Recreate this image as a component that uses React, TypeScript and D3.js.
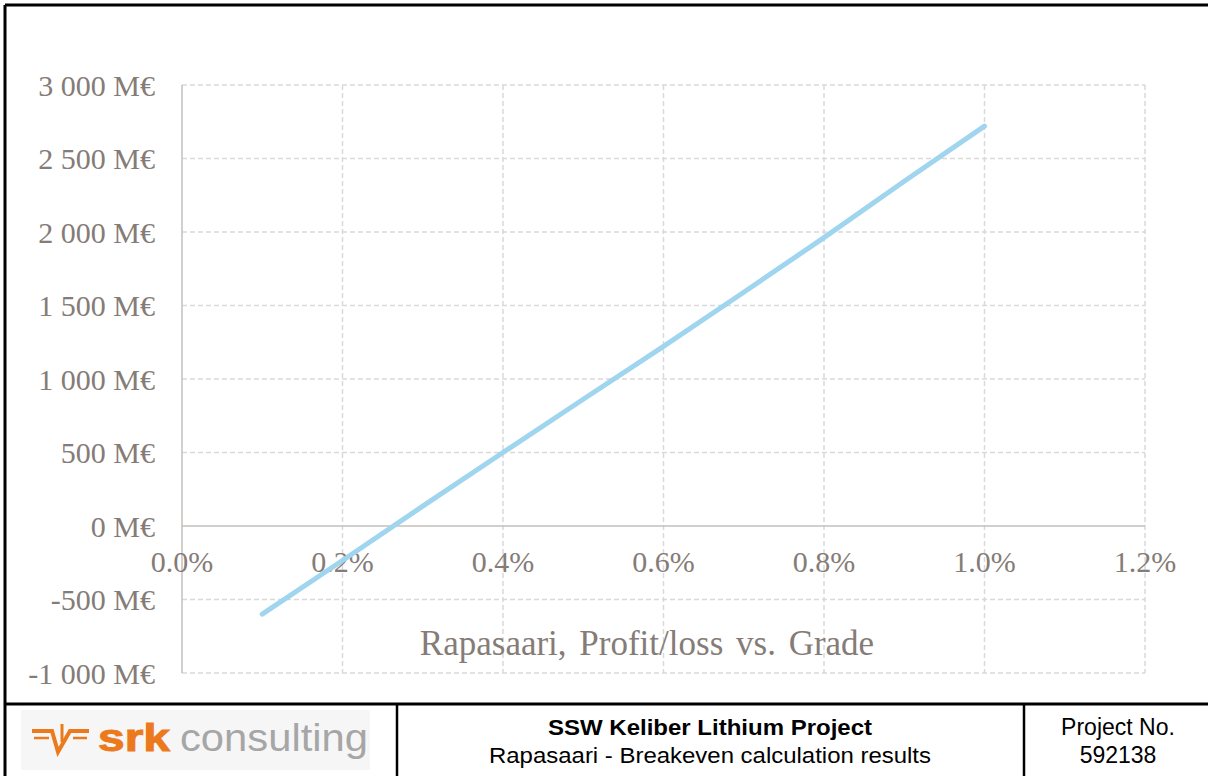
import * as d3 from 'd3';

// grade (%) vs. profit/loss (M€)
const grades = [0.1, 0.2, 0.3, 0.4, 0.5, 0.6, 0.7, 0.8, 0.9, 1.0];
const profit = [-600, -235, 135, 500, 862, 1222, 1590, 1962, 2345, 2720];

const xTicks = [0, 0.2, 0.4, 0.6, 0.8, 1.0, 1.2];
const yTicks = [-1000, -500, 0, 500, 1000, 1500, 2000, 2500, 3000];

const chartTitle = 'Rapasaari, Profit/loss vs. Grade';
const footerTitle = 'SSW Keliber Lithium Project';
const footerSub = 'Rapasaari - Breakeven calculation results';
const projectLabel = 'Project No.';
const projectNo = '592138';

const W = 1208;
const H = 776;
const plot = { left: 182, right: 1145, top: 85, bottom: 673 };

const textGrey = '#857c77';
const gridGrey = '#d9d9d9';
const axisGrey = '#c4bfbc';
const orange = '#ec7a1c';
const serif = '"Liberation Serif", "Times New Roman", serif';
const sans = '"Liberation Sans", Arial, sans-serif';

// excel style: space as thousands separator, plain hyphen for negatives
const fmtY = (v: number) =>
  d3.format(',')(v).replace(/,/g, ' ').replace('\u2212', '-') + ' M€';
const fmtX = (v: number) => v.toFixed(1) + '%';

const App = () => {
  const x = d3.scaleLinear().domain([0, 1.2]).range([plot.left, plot.right]);
  const y = d3.scaleLinear().domain([-1000, 3000]).range([plot.bottom, plot.top]);

  const line = d3
    .line<number>()
    .x((_, i) => x(grades[i]))
    .y((d) => y(d));

  const footerY = 704;

  return (
    <svg
      width={W}
      height={H}
      style={{ position: 'absolute', left: 0, top: 0, background: '#fff' }}
    >
      {/* gridlines */}
      <g stroke={gridGrey} strokeWidth={1.5} strokeDasharray="5,3" fill="none">
        {yTicks
          .filter((t) => t !== 0)
          .map((t) => (
            <line key={'h' + t} x1={plot.left} x2={plot.right} y1={y(t)} y2={y(t)} />
          ))}
        {xTicks
          .filter((t) => t !== 0)
          .map((t) => (
            <line key={'v' + t} x1={x(t)} x2={x(t)} y1={plot.top} y2={plot.bottom} />
          ))}
      </g>

      {/* axes */}
      <line x1={x(0)} x2={x(0)} y1={plot.top} y2={plot.bottom} stroke={axisGrey} strokeWidth={1.5} />
      <line x1={plot.left} x2={plot.right} y1={y(0)} y2={y(0)} stroke={axisGrey} strokeWidth={1.5} />

      {/* y tick labels */}
      <g fontFamily={serif} fontSize={30} fill={textGrey} textAnchor="end">
        {yTicks.map((t) => (
          <text key={t} x={155} y={y(t)} dy="0.35em">
            {fmtY(t)}
          </text>
        ))}
      </g>

      {/* x tick labels, next to the zero line */}
      <g fontFamily={serif} fontSize={30} fill={textGrey} textAnchor="middle">
        {xTicks.map((t) => (
          <text key={t} x={x(t)} y={y(0) + 46}>
            {fmtX(t)}
          </text>
        ))}
      </g>

      {/* series */}
      <path
        d={line(profit) || ''}
        fill="none"
        stroke="#9fd5ee"
        strokeWidth={5}
        strokeLinecap="round"
        strokeLinejoin="round"
      />

      {/* chart title */}
      <text
        x={647}
        y={655}
        textAnchor="middle"
        fontFamily={serif}
        fontSize={35}
        fill={textGrey}
        wordSpacing={4}
      >
        {chartTitle}
      </text>

      {/* frame */}
      <g stroke="#000" fill="none">
        <line x1={5} x2={W} y1={5} y2={5} strokeWidth={3} />
        <line x1={5} x2={5} y1={5} y2={H} strokeWidth={3} />
        <line x1={5} x2={W} y1={footerY} y2={footerY} strokeWidth={3} />
        <line x1={397} x2={397} y1={footerY} y2={H} strokeWidth={2.5} />
        <line x1={1024} x2={1024} y1={footerY} y2={H} strokeWidth={2.5} />
      </g>

      {/* logo */}
      <g>
        <rect x={21} y={710} width={349} height={60} fill="#f6f6f6" />
        <g stroke={orange} fill="none" strokeLinecap="butt" strokeLinejoin="miter">
          <path d="M32,731 H52 L58,752 L70,731 H89" strokeWidth={4} />
          <path d="M34,738 H49 M73,738 H87" strokeWidth={2.5} />
          <path d="M62,724 V742" strokeWidth={3} />
        </g>
        <text
          x={98}
          y={751}
          fontFamily={sans}
          fontWeight="900"
          fontSize={38}
          fill={orange}
          textLength={72}
          lengthAdjust="spacingAndGlyphs"
          stroke={orange}
          strokeWidth={1}
        >
          srk
        </text>
        <text
          x={180}
          y={751}
          fontFamily={sans}
          fontSize={39}
          fill="#a6a6a6"
          textLength={188}
          lengthAdjust="spacingAndGlyphs"
        >
          consulting
        </text>
      </g>

      {/* footer texts */}
      <g fontFamily={sans} fill="#000" textAnchor="middle">
        <text x={710} y={735} fontWeight="bold" textLength={324} lengthAdjust="spacingAndGlyphs" fontSize={22}>
          {footerTitle}
        </text>
        <text x={710} y={763} textLength={442} lengthAdjust="spacingAndGlyphs" fontSize={22}>
          {footerSub}
        </text>
        <text x={1118} y={735} fontSize={23}>{projectLabel}</text>
        <text x={1118} y={763} fontSize={23}>{projectNo}</text>
      </g>
    </svg>
  );
};

export default App;
